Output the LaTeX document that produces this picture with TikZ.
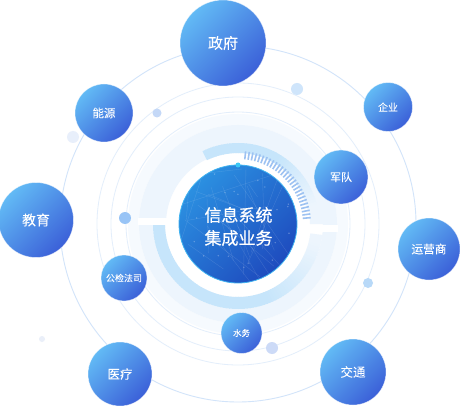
\documentclass[tikz,border=0pt]{standalone}
\usepackage{fontspec}
\newfontfamily\cjk[FakeBold=0.5]{Noto Sans CJK SC}
\definecolor{pale}{HTML}{EDF5FD}
\definecolor{paleglow}{HTML}{F6FAFE}
\definecolor{bright}{HTML}{C6E5FB}
\definecolor{tickc}{HTML}{9DC2F2}
\definecolor{ringc}{HTML}{E3EEFB}
\definecolor{ringo}{HTML}{D2E4FA}
\definecolor{plA}{HTML}{62BAF5}
\definecolor{plB}{HTML}{3B60D8}
\definecolor{cA}{HTML}{2B90E1}
\definecolor{cB}{HTML}{1E4BBE}
\definecolor{coreedge}{HTML}{3FB2F0}
\definecolor{cyandot}{HTML}{3CC8F5}
\definecolor{dotA}{HTML}{CFE5FB}
\definecolor{dotB}{HTML}{C4D8F7}
\definecolor{dotC}{HTML}{E8EFFB}
\definecolor{dotD}{HTML}{98C4F6}
\definecolor{dotE}{HTML}{EAEFF9}
\definecolor{dotF}{HTML}{B8D9F8}
\definecolor{dotG}{HTML}{CCDAF7}
\begin{document}
\begin{tikzpicture}[x=1pt,y=-1pt,
  planet/.style={circle, inner sep=0pt, minimum size=#1, shade, top color=plA,
    bottom color=plB, shading angle=45, draw=white, draw opacity=0.55,
    line width=0.6pt, text=white},
  lbl/.style={font=\cjk\fontsize{#1}{#1}\selectfont},
  thinring/.style={draw=ringc, line width=0.8pt}]
\useasboundingbox (0,0) rectangle (460,406);
\fill[white] (0,0) rectangle (460,406);

\begin{scope}[shift={(238,224)}, y=1pt]
  % thin rings
  \draw[thinring] (0,0) circle (112);
  \draw[thinring] (0,0) circle (127);
  \draw[thinring] (0,0) circle (141);
  \draw[draw=ringo, line width=0.9pt] (0,0) circle (178);
  % glow
  \fill[paleglow] (0,0) circle (110);
  \fill[white] (0,0) circle (99);
  % upper pale band
  \fill[pale] (0:99) arc[start angle=0,end angle=180,radius=99]
     -- (180:72) arc[start angle=180,end angle=0,radius=72] -- cycle;
  % top bright arc with fade
  \foreach \a in {116,114,...,14}{
    \pgfmathsetmacro\t{\a>60 ? 100 : max(0,(\a-15)/45*100)}
    \fill[bright!\t!pale] ({\a}:81) arc[start angle=\a, end angle=\a-2.6, radius=81]
      -- ({\a-2.6}:71) arc[start angle=\a-2.6, end angle=\a, radius=71] -- cycle;
  }
  % lower pale band
  \fill[pale] (180:99) arc[start angle=180,end angle=360,radius=99]
     -- (0:85) arc[start angle=360,end angle=180,radius=85] -- cycle;
  % lower bright band with fade
  \foreach \a in {180,182,...,350}{
    \pgfmathsetmacro\t{\a<290 ? 100 : max(0,(345-\a)/55*100)}
    \fill[bright!\t!pale] ({\a}:85) arc[start angle=\a, end angle=\a+2.6, radius=85]
      -- ({\a+2.6}:73) arc[start angle=\a+2.6, end angle=\a, radius=73] -- cycle;
  }
  % ticks
  \foreach \i in {0,...,27}{
    \pgfmathsetmacro\ang{84-\i*79/27}
    \draw[tickc, line width=1.6pt] (\ang:65) -- (\ang:73);
  }
  % horizontal splits
  \fill[white] (-100,-1) rectangle (-58,6);
  \fill[white] (58,-8) rectangle (100,-1);
  % core disc
  \node[circle, minimum size=118pt, inner sep=0pt, shade, top color=cA,
    bottom color=cB, shading angle=45, draw=coreedge, line width=0.8pt] (core) at (0,0) {};
  \begin{scope}
    \clip (0,0) circle (58.5);
    \pgfmathsetseed{7}
    \foreach \i in {1,...,28}{
      \draw[white, opacity=0.13, line width=0.4pt] (rand*62, rand*62) -- (rand*62, rand*62);
    }
    \foreach \i in {1,...,30}{
      \fill[white, opacity=0.28] (rand*55, rand*55) circle (0.8pt);
    }
  \end{scope}
  \fill[cyandot] (90:59) circle (2.5pt);
\end{scope}

\node[text=white, align=center, font=\cjk\fontsize{17}{23}\selectfont] (coretext) at (238.5,226.5) {信息系统\\集成业务};

% small dots
\fill[dotA] (297,89) circle (6pt);
\fill[dotB] (157,113) circle (4.5pt);
\fill[dotC] (73,137) circle (6pt);
\fill[dotD] (125,218) circle (6pt);
\fill[dotE] (42,339) circle (3pt);
\fill[dotF] (368,283) circle (5pt);
\fill[dotG] (272,348) circle (6pt);

% planets
\node[planet=86pt, lbl=15] (zf) at (223,43) {政府};
\node[planet=58pt, lbl=11.5] (ny) at (104,113) {能源};
\node[planet=49pt, lbl=10] (qy) at (388,107) {企业};
\node[planet=54pt, lbl=11] (jd) at (341,177) {军队};
\node[planet=75pt, lbl=14] (jy) at (36,220) {教育};
\node[planet=46pt, lbl=9] (gj) at (124,278) {公检法司};
\node[planet=64pt, lbl=12.5] (yl) at (120,374) {医疗};
\node[planet=41pt, lbl=8.5] (sw) at (241.5,333) {水务};
\node[planet=66pt, lbl=12.5] (jt) at (353,372) {交通};
\node[planet=62pt, lbl=11.7] (yys) at (429,249) {运营商};
\end{tikzpicture}
\end{document}
